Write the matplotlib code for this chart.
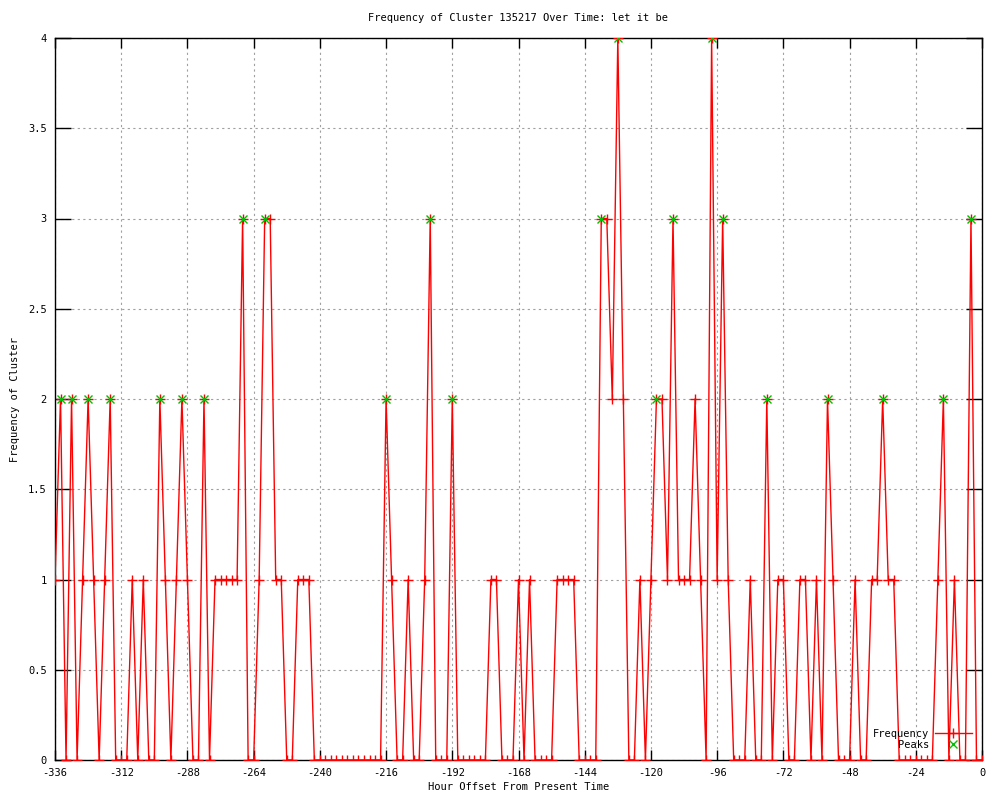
import numpy as np
import matplotlib
matplotlib.use('Agg')
import matplotlib.pyplot as plt
from matplotlib.lines import Line2D
from matplotlib.ticker import FormatStrFormatter

# --- data: one sample every 2 hours, from -336 to 0 ---------------------------
hours = list(range(-336, 1, 2))
freq = [
    1, 2, 0, 2, 0, 1, 2, 1, 0, 1, 2, 0, 0, 0, 1, 0, 1, 0, 0, 2,   # -336 .. -298
    1, 0, 1, 2, 1, 0, 0, 2, 0, 1, 1, 1, 1, 1, 3, 0, 0, 1, 3, 3,   # -296 .. -258
    1, 1, 0, 0, 1, 1, 1, 0, 0, 0, 0, 0, 0, 0, 0, 0, 0, 0, 0, 0,   # -256 .. -218
    2, 1, 0, 0, 1, 0, 0, 1, 3, 0, 0, 0, 2, 0, 0, 0, 0, 0, 0, 1,   # -216 .. -178
    1, 0, 0, 0, 1, 0, 1, 0, 0, 0, 0, 1, 1, 1, 1, 0, 0, 0, 0, 3,   # -176 .. -138
    3, 2, 4, 2, 0, 0, 1, 0, 1, 2, 2, 1, 3, 1, 1, 1, 2, 1, 0, 4,   # -136 .. -98
    1, 3, 1, 0, 0, 0, 1, 0, 0, 2, 0, 1, 1, 0, 0, 1, 1, 0, 1, 0,   # -96 .. -58
    2, 1, 0, 0, 0, 1, 0, 0, 1, 1, 2, 1, 1, 0, 0, 0, 0, 0, 0, 0,   # -56 .. -18
    1, 2, 0, 1, 0, 0, 3, 0, 0,                                    # -16 .. 0
]
peak_hours = [-334, -330, -324, -316, -298, -290, -282, -268, -260, -216,
              -200, -192, -138, -132, -118, -112, -98, -94, -78, -56,
              -36, -14, -4]

title = 'Frequency of Cluster 135217 Over Time: let it be'
x_ticks = list(range(-336, 1, 24))
y_ticks = [0, 0.5, 1, 1.5, 2, 2.5, 3, 3.5, 4]

lookup = dict(zip(hours, freq))
peak_vals = [lookup[h] for h in peak_hours]

plt.rcParams['font.family'] = ['DejaVu Sans Mono']
plt.rcParams['font.size'] = 7.5
plt.rcParams['axes.unicode_minus'] = False

fig = plt.figure(figsize=(10, 8), dpi=100)
ax = fig.add_axes([0.055, 0.05, 0.927, 0.9025])

ax.plot(hours, freq, color='#ff0000', linewidth=1, marker='+',
        markersize=7, markeredgewidth=1, label='Frequency', zorder=3)
ax.plot(peak_hours, peak_vals, linestyle='none', color='#00c000', marker='x',
        markersize=6, markeredgewidth=1, label='Peaks', zorder=4)

ax.set_xlim(-336, 0)
ax.set_ylim(0, 4)
ax.set_xticks(x_ticks)
ax.set_yticks(y_ticks)
ax.yaxis.set_major_formatter(FormatStrFormatter('%g'))

ax.grid(True, color='#a0a0a0', linestyle=(0, (2, 3)), linewidth=0.8, zorder=0)
ax.tick_params(axis='both', direction='in', top=True, right=True,
               width=1, color='black')
ax.tick_params(axis='x', length=7, pad=6)
ax.tick_params(axis='y', length=11.5, pad=6)
for s in ax.spines.values():
    s.set_linewidth(1)

ax.set_title(title, fontsize=7.5, pad=12)
ax.set_xlabel('Hour Offset From Present Time', labelpad=3)
ax.set_ylabel('Frequency of Cluster', labelpad=6)

handles = [
    Line2D([0], [0], color='#ff0000', linewidth=1, marker='+', markersize=7),
    Line2D([0], [0], color='#00c000', linestyle='none', marker='x', markersize=6),
]
ax.legend(handles, ['Frequency', 'Peaks'], loc='lower right', frameon=False,
          markerfirst=False, handlelength=3.5, handletextpad=0.6,
          labelspacing=0.1, borderaxespad=0.6, fontsize=7.5)

fig.savefig('out.png', dpi=100, facecolor='white')
